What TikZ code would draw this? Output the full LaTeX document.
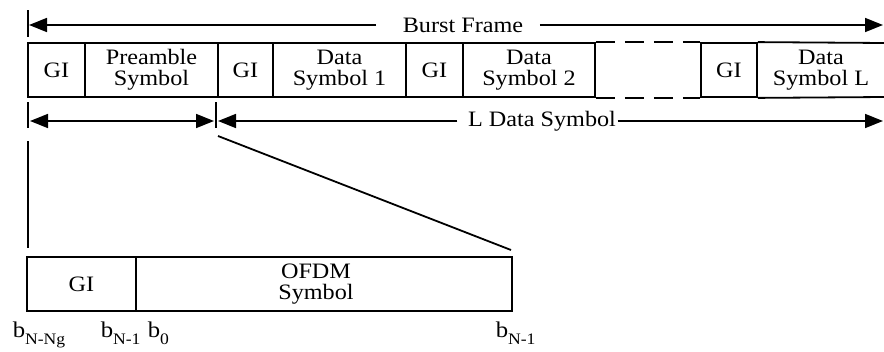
\documentclass[tikz,border=0pt]{standalone}
\usepackage{fontspec}
\setmainfont[FakeStretch=1.1]{Liberation Serif}
\usetikzlibrary{arrows.meta}
\newcommand{\bsub}[1]{b\raisebox{-7pt}{\fontsize{16}{16}\selectfont #1}}
\begin{document}
\begin{tikzpicture}[x=1pt,y=-1pt,
  line width=1.6pt,
  txt/.style={font=\fontsize{22}{21}\selectfont, align=center, inner sep=0pt},
  cell/.style={draw, line width=1.8pt, minimum height=54pt, inner sep=0pt,
    font=\fontsize{22}{21}\selectfont, align=center},
  tipR/.style={-{Triangle[length=18pt,width=14pt]}},
  tipB/.style={{Triangle[length=18pt,width=14pt]}-{Triangle[length=18pt,width=14pt]}},
  tick/.style={line width=1.8pt},
  blab/.style={font=\fontsize{22.5}{22}\selectfont, inner sep=0pt, anchor=base west}
]
\useasboundingbox (0,0) rectangle (884,351);

% top row of cells
\node[cell, minimum width=57pt]  (gi0) at (56.5,70) {GI};
\node[cell, minimum width=133pt] (pre) at (151.5,70) {Preamble\\Symbol};
\node[cell, minimum width=55pt]  (gi1) at (245.5,70) {GI};
\node[cell, minimum width=133pt] (d1)  at (339.5,70) {Data\\Symbol 1};
\node[cell, minimum width=57pt]  (gi2) at (434.5,70) {GI};
\node[cell, minimum width=132pt] (d2)  at (529,70) {Data\\Symbol 2};
\node[cell, minimum width=56pt]  (gi3) at (729,70) {GI};
\node[txt] (dL) at (821,70) {Data\\Symbol L};
% open last cell and dashed gap
\draw[line width=1.8pt] (gi3.north east) -- (884,43);
\draw[line width=1.8pt] (gi3.south east) -- (884,97);
\draw[line width=1.8pt, dash pattern=on 19pt off 10pt] (d2.north east) -- (gi3.north west);
\draw[line width=1.8pt, dash pattern=on 19pt off 10pt] (d2.south east) -- (gi3.south west);

% Burst frame arrow
\coordinate (bfT1) at (28,10);
\coordinate (bfT2) at (28,37);
\coordinate (bfL) at (29,25);
\coordinate (bfR) at (883,25);
\draw[tick] (bfT1) -- (bfT2);
\node[txt] (bf) at (463,25) {Burst Frame};
\draw[tipR, shorten <=26pt] (bf.west) -- (bfL);
\draw[tipR, shorten <=16pt] (bf.east) -- (bfR);

% second arrow row
\coordinate (t1a) at (28,102);
\coordinate (t1b) at (28,128);
\coordinate (t2a) at (216,102);
\coordinate (t2b) at (216,128);
\draw[tick] (t1a) -- (t1b);
\draw[tick] (t2a) -- (t2b);
\coordinate (pL) at (30,121);
\coordinate (pR) at (214,121);
\draw[tipB] (pL) -- (pR);
\coordinate (lL) at (218,121);
\coordinate (lR) at (883,121);
\node[txt] (ld) at (542,121) {L Data Symbol};
\draw[tipR, shorten <=10pt] (ld.west) -- (lL);
\draw[tipR, shorten <=1pt] (ld.east) -- (lR);

% lower expanded cell
\node[cell, minimum width=109pt] (lgi) at (81.5,284) {GI};
\node[cell, minimum width=376pt] (ofdm) at (324,284) {};
\node[txt] (ofdmt) at (316,284) {OFDM\\Symbol};

% zoom lines
\coordinate (zA) at (28,141);
\coordinate (zB) at (28,248);
\coordinate (zC) at (218,136);
\coordinate (zD) at (511,250);
\draw[tick] (zA) -- (zB);
\draw[tick] (zC) -- (zD);

% index labels
\node[blab] (b1) at (12,337) {\bsub{N-Ng}};
\node[blab] (b2) at (100,337) {\bsub{N-1}};
\node[blab] (b3) at (147,337) {\bsub{0}};
\node[blab] (b4) at (495,337) {\bsub{N-1}};
\end{tikzpicture}
\end{document}
